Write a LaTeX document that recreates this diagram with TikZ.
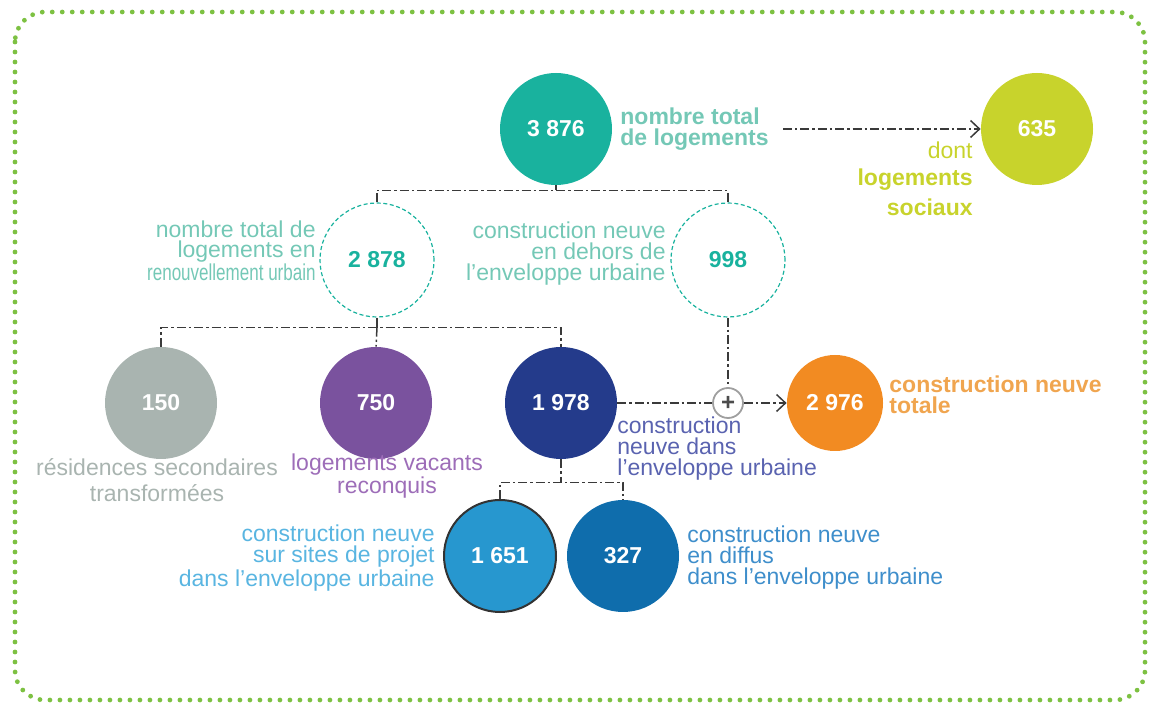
\documentclass[tikz,border=0pt]{standalone}
\usepackage{fontspec}
\usepackage{graphicx}
\setmainfont{Liberation Sans}
\usetikzlibrary{arrows.meta}

\definecolor{cTeal}{HTML}{19B29E}
\definecolor{lTeal}{HTML}{74C8B6}
\definecolor{cLime}{HTML}{C8D32C}
\definecolor{cGray}{HTML}{A9B4B0}
\definecolor{cPurple}{HTML}{7A529E}
\definecolor{lPurple}{HTML}{9D6DB8}
\definecolor{cNavy}{HTML}{243B8B}
\definecolor{lNavy}{HTML}{5A63B0}
\definecolor{cOrange}{HTML}{F28B22}
\definecolor{lOrange}{HTML}{F0A54F}
\definecolor{cSky}{HTML}{2797CF}
\definecolor{lSky}{HTML}{59B5E1}
\definecolor{cBlue}{HTML}{0F6DAC}
\definecolor{lBlue}{HTML}{3E8ECB}
\definecolor{cLink}{HTML}{3A3A3A}
\definecolor{cFrame}{HTML}{7DC142}

\newcommand\lbl{\fontsize{11.5}{10.5}\selectfont}

\begin{document}
\begin{tikzpicture}[x=0.5pt, y=-0.5pt,
  num/.style={circle, minimum size=56pt, inner sep=0pt, font=\lbl\bfseries, text=white},
  ring/.style={circle, minimum size=57pt, inner sep=0pt, draw=cTeal, line width=0.6pt,
    dash pattern=on 2pt off 1.3pt, font=\lbl\bfseries, text=cTeal},
  lab/.style={inner sep=0pt, font=\lbl},
  link/.style={draw=cLink, line width=0.75pt, dash pattern=on 4.5pt off 1.5pt on 1.2pt off 1.5pt},
  tip/.style={-{Straight Barb[length=4.5pt, width=8.5pt, line width=0.75pt]}},
  plusnode/.style={circle, draw=gray!75, fill=white, line width=0.9pt, minimum size=15pt,
    inner sep=0pt, text=gray!60!black, font=\fontsize{12}{12}\selectfont\bfseries}]
\useasboundingbox (0,0) rectangle (1150,704);
\draw[cFrame, line width=2.4pt, line cap=round, dash pattern=on 0pt off 5pt, rounded corners=15pt]
  (15,12) rectangle (1145,700);

% circles
\node[num, fill=cTeal] (total) at (556,129) {3 876};
\node[num, fill=cLime] (social) at (1037,129) {635};
\node[ring] (renouv) at (377,260) {2 878};
\node[ring] (dehors) at (728,260) {998};
\node[num, fill=cGray] (resid) at (161,403) {150};
\node[num, fill=cPurple] (vacants) at (376,403) {750};
\node[num, fill=cNavy] (dans) at (561,403) {1 978};
\node[num, fill=cOrange, minimum size=48pt] (neuve) at (835,403) {2 976};
\node[plusnode] (somme) at (728,403) {+};
\node[num, fill=cSky, draw=black!80, line width=1pt] (projet) at (500,556) {1 651};
\node[num, fill=cBlue] (diffus) at (623,556) {327};

% labels
\node[lab, text=lTeal, align=left, anchor=west] (totlab) at (620,129) {\bfseries nombre total\\\bfseries de logements};
\node[lab, text=cLime, align=right, anchor=east] (soclab) at (973,179) {dont\\[3pt]\bfseries logements\\[3pt]\bfseries sociaux};
\node[lab, text=lTeal, align=right, anchor=east, font=\fontsize{11.5}{10}\selectfont] (renlab) at (316,251) {nombre total de\\logements en\\\scalebox{0.74}[1]{renouvellement urbain}};
\node[lab, text=lTeal, align=right, anchor=east] (dehlab) at (666,254) {construction neuve\\en dehors de\\l’enveloppe urbaine};
\node[lab, text=cGray, align=center] (reslab) at (157,480) {résidences secondaires\\[2.5pt]transformées};
\node[lab, text=lPurple, align=center] (vaclab) at (387,476) {logements vacants\\reconquis};
\node[lab, text=lNavy, align=left, anchor=west] (danslab) at (617,449) {construction\\neuve dans\\l’enveloppe urbaine};
\node[lab, text=lOrange, align=left, anchor=west] (neuvlab) at (889,395) {\bfseries construction neuve\\\bfseries totale};
\node[lab, text=lSky, align=right, anchor=east] (projlab) at (435,558) {construction neuve\\sur sites de projet\\dans l’enveloppe urbaine};
\node[lab, text=lBlue, align=left, anchor=west] (diflab) at (687,558) {construction neuve\\en diffus\\dans l’enveloppe urbaine};

% connectors
\draw[link] (total.south) -- ++(0,5) coordinate (b1);
\draw[link] (renouv.north) |- (b1) -| (dehors.north);
\draw[link, tip] ([xshift=7pt]totlab.east) -- (social.west);
\draw[link] (renouv.south) -- ++(0,10) coordinate (b2);
\draw[link] (resid.north) |- (b2) -| (dans.north);
\draw[link] (b2) -- (vacants.north);
\draw[link] (dehors.south) -- (somme.north);
\draw[link] (dans.east) -- (somme.west);
\draw[link, tip] (somme.east) -- (neuve.west);
\draw[link] (dans.south) -- ++(0,23) coordinate (b3);
\draw[link] (projet.north) |- (b3) -| (diffus.north);
\end{tikzpicture}
\end{document}
